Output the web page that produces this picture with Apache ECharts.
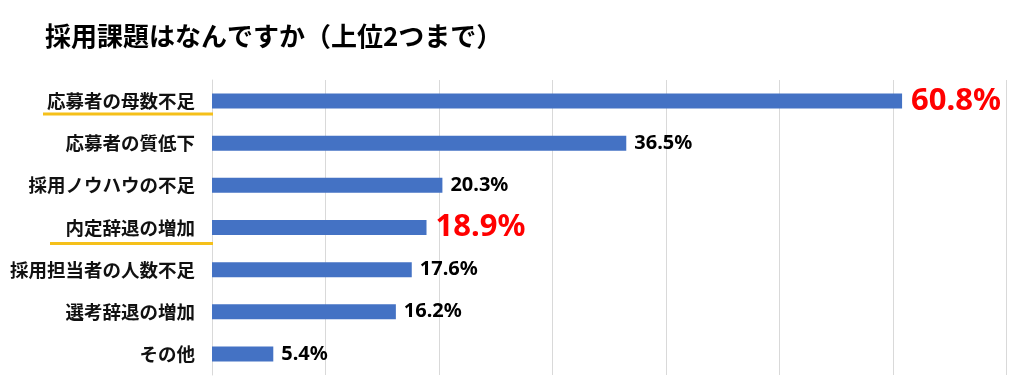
<!DOCTYPE html>
<html>
<head>
<meta charset="utf-8">
<script src="https://cdn.jsdelivr.net/npm/echarts@6/dist/echarts.min.js"></script>
<style>
html,body{margin:0;padding:0;background:#fff;}
#chart{width:1021px;height:390px;}
</style>
</head>
<body>
<div id="chart"></div>
<script>
var titleText = '採用課題はなんですか（上位2つまで）';
var categories = ['応募者の母数不足','応募者の質低下','採用ノウハウの不足','内定辞退の増加','採用担当者の人数不足','選考辞退の増加','その他'];
var values = [60.8, 36.5, 20.3, 18.9, 17.6, 16.2, 5.4];
var highlighted = ['応募者の母数不足', '内定辞退の増加'];
var axisMin = 0, axisMax = 70, axisInterval = 10;

var cjk = '"Noto Sans CJK JP", "Noto Sans", sans-serif';
var chart = echarts.init(document.getElementById('chart'));

var seriesData = values.map(function (v, i) {
  var hi = highlighted.indexOf(categories[i]) >= 0;
  return {
    value: v,
    label: hi ? { fontSize: 31, color: '#ff0000', fontWeight: 'bold', distance: 9 } : {}
  };
});

chart.setOption({
  animation: false,
  title: {
    text: titleText,
    left: 40,
    top: 18,
    textStyle: { fontFamily: cjk, fontSize: 26, fontWeight: 'bold', color: '#000' }
  },
  grid: { left: 212, right: 14.5, top: 80, bottom: 15, containLabel: false },
  xAxis: {
    type: 'value',
    min: axisMin, max: axisMax, interval: axisInterval,
    axisLabel: { show: false },
    axisLine: { show: false },
    axisTick: { show: false },
    splitLine: { show: true, lineStyle: { color: '#d9d9d9', width: 1 } }
  },
  yAxis: {
    type: 'category',
    data: categories,
    inverse: true,
    axisLine: { show: true, lineStyle: { color: '#d9d9d9', width: 1 } },
    axisTick: { show: false },
    axisLabel: { fontFamily: cjk, fontSize: 18.5, fontWeight: 'bold', color: '#111', margin: 17 }
  },
  series: [{
    type: 'bar',
    data: seriesData,
    barWidth: 15,
    itemStyle: { color: '#4472c4' },
    label: {
      show: true,
      position: 'right',
      distance: 8,
      formatter: function (p) { return p.value.toFixed(1) + '%'; },
      fontFamily: '"Noto Sans", "DejaVu Sans", sans-serif',
      fontSize: 20,
      fontWeight: 'bold',
      color: '#000'
    }
  }]
});

// underline decorations for highlighted categories, positioned via the axis scale
var starts = { '応募者の母数不足': 43, '内定辞退の増加': 50 };
var offsets = { '応募者の母数不足': 13, '内定辞退の増加': 16 };
var axisX = chart.convertToPixel({ xAxisIndex: 0 }, axisMin);
var lines = highlighted.map(function (c) {
  var y = chart.convertToPixel({ yAxisIndex: 0 }, c) + offsets[c];
  return {
    type: 'line',
    shape: { x1: starts[c], y1: y, x2: axisX + 1, y2: y },
    style: { stroke: '#f5c01a', lineWidth: 3 },
    z: 10
  };
});
chart.setOption({ graphic: lines });
</script>
</body>
</html>
